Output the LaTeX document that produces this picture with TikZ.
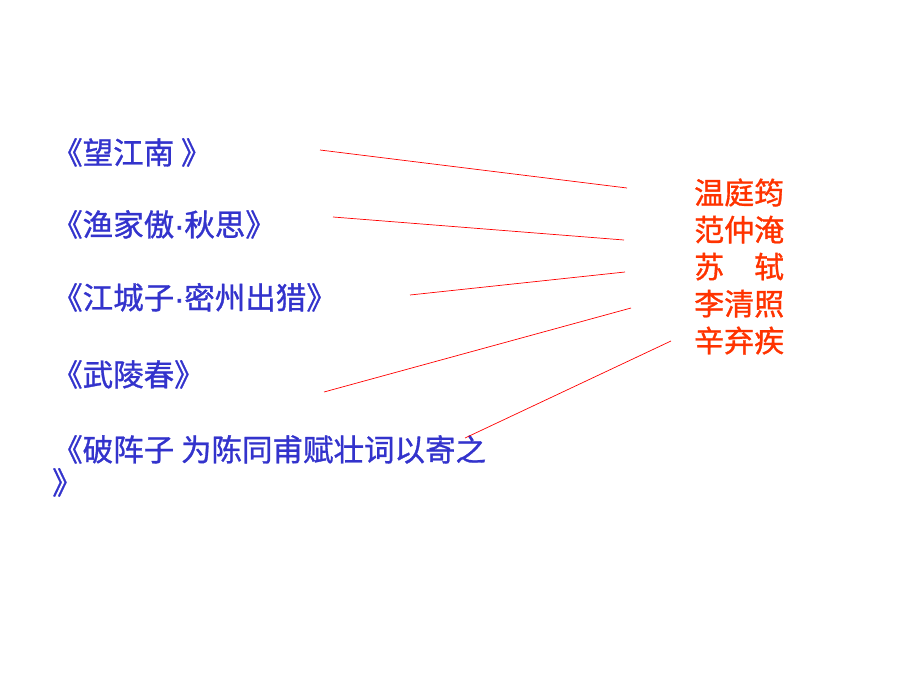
\documentclass[tikz,border=0pt]{standalone}
\usepackage{fontspec}
\newfontfamily\cjk{Noto Sans CJK SC}[FakeBold=1]
\newfontfamily\dotfont{Liberation Sans}[FakeBold=2]
\usepackage{xcolor}
\usepackage{tikz}
\definecolor{titleblue}{RGB}{51, 51, 204}
\definecolor{namered}{RGB}{255, 51, 0}
\usetikzlibrary{positioning}
\newcommand{\sdot}{{\dotfont ·}}

\begin{document}
\begin{tikzpicture}[
    x=1pt, y=-1pt,
    title/.style={anchor=base west, inner sep=0pt, text=titleblue, align=left,
                  font=\cjk\fontsize{30.5}{33}\selectfont},
    poet/.style={anchor=base west, inner sep=0pt, text=namered, align=left,
                 font=\cjk\fontsize{30}{37}\selectfont},
    link/.style={draw=red, line width=0.7pt}
]
    \useasboundingbox (0,0) rectangle (920,690);

    % Titles
    \node[title] (wangjiangnan) at (52,164) {《望江南 》};
    \node[title] (yujiaao) at (52,236) {《渔家傲\sdot 秋思》};
    \node[title] (jiangchengzi) at (52,309) {《江城子\sdot 密州出猎》};
    \node[title] (wulingchun) at (52,386) {《武陵春》};
    \node[title] (pozhenzi) at (52,494) {《破阵子 为陈同甫赋壮词以寄之\\》};

    % Poets
    \node[poet] (poets) at (694,352) {温庭筠\\范仲淹\\苏\quad 轼\\李清照\\辛弃疾};

    % Matching lines
    \coordinate (a1) at (320,150); \coordinate (b1) at (627,188);
    \coordinate (a2) at (333,217); \coordinate (b2) at (624,240);
    \coordinate (a3) at (410,295); \coordinate (b3) at (625,272);
    \coordinate (a4) at (324,392); \coordinate (b4) at (631,308);
    \coordinate (a5) at (465,438); \coordinate (b5) at (671,341);
    \foreach \i in {1,...,5}
        \draw[link] (a\i) -- (b\i);
\end{tikzpicture}
\end{document}
